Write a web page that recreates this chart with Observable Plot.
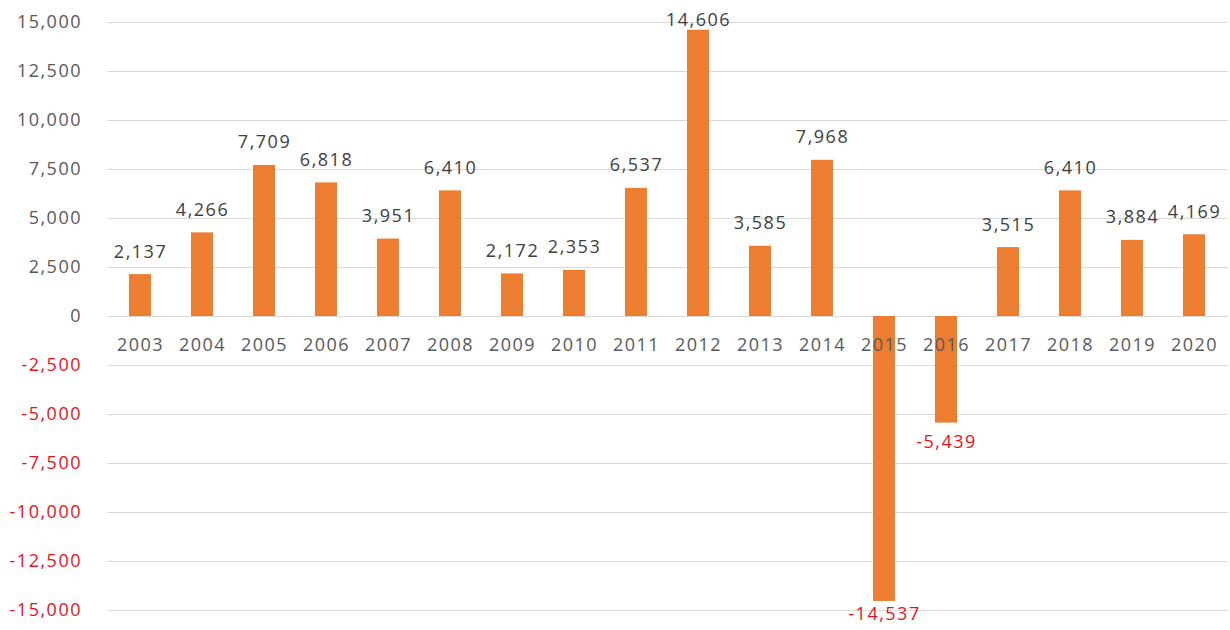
<!DOCTYPE html>
<html>
<head>
<meta charset="utf-8">
<script src="https://cdn.jsdelivr.net/npm/d3@7"></script>
<script src="https://cdn.jsdelivr.net/npm/@observablehq/plot@0.6"></script>
<style>
  html, body { margin: 0; padding: 0; background: #fff; }
  #chart svg { font-family: "Open Sans", sans-serif; letter-spacing: 1.5px; }
</style>
</head>
<body>
<div id="chart"></div>
<script>
// Annual net change, 2003–2020
const years = ["2003","2004","2005","2006","2007","2008","2009","2010","2011","2012","2013","2014","2015","2016","2017","2018","2019","2020"];
const values = [2137, 4266, 7709, 6818, 3951, 6410, 2172, 2353, 6537, 14606, 3585, 7968, -14537, -5439, 3515, 6410, 3884, 4169];
const yTicks = [-15000, -12500, -10000, -7500, -5000, -2500, 0, 2500, 5000, 7500, 10000, 12500, 15000];

const rows = years.map((year, i) => ({year, value: values[i]}));
// thousands separator with a plain hyphen for negatives
const fmt = d => d3.format(",")(d).replace("\u2212", "-");
const negRed = "#e3141e";
const textGray = "#595959";

// labels near the frame edge are tucked closer to their bar
const nearEdge = d => Math.abs(d.value) > 13500;

const chart = Plot.plot({
  width: 1230,
  height: 630,
  marginTop: 22,
  marginBottom: 20,
  marginLeft: 107,
  marginRight: 2,
  style: {fontSize: "18px", fontFamily: "'Open Sans', sans-serif", background: "#fff", letterSpacing: "1.5px"},
  x: {domain: years, paddingInner: 0.645, paddingOuter: 0.32, axis: null},
  y: {domain: [-15000, 15000], axis: null},
  marks: [
    Plot.gridY(yTicks, {stroke: "#d9d9d9", strokeOpacity: 1, strokeWidth: 1}),
    Plot.text(yTicks, {
      y: d => d, frameAnchor: "left", textAnchor: "end", dx: -25.5,
      text: d => fmt(d), fill: d => d < 0 ? negRed : textGray
    }),
    Plot.barY(rows, {x: "year", y: "value", fill: "#ed7d31"}),
    Plot.text(rows, {
      x: "year", y: 0, text: "year", dy: 29, fill: textGray
    }),
    Plot.text(rows.filter(d => d.value >= 0 && !nearEdge(d)), {
      x: "year", y: "value", text: d => fmt(d.value),
      lineAnchor: "bottom", dy: -17, fill: "#404040"
    }),
    Plot.text(rows.filter(d => d.value >= 0 && nearEdge(d)), {
      x: "year", y: "value", text: d => fmt(d.value),
      lineAnchor: "bottom", dy: -4, fill: "#404040"
    }),
    Plot.text(rows.filter(d => d.value < 0 && !nearEdge(d)), {
      x: "year", y: "value", text: d => fmt(d.value),
      lineAnchor: "top", dy: 12, fill: negRed
    }),
    Plot.text(rows.filter(d => d.value < 0 && nearEdge(d)), {
      x: "year", y: "value", text: d => fmt(d.value),
      lineAnchor: "top", dy: 6, fill: negRed
    })
  ]
});

document.getElementById("chart").append(chart);
</script>
</body>
</html>
